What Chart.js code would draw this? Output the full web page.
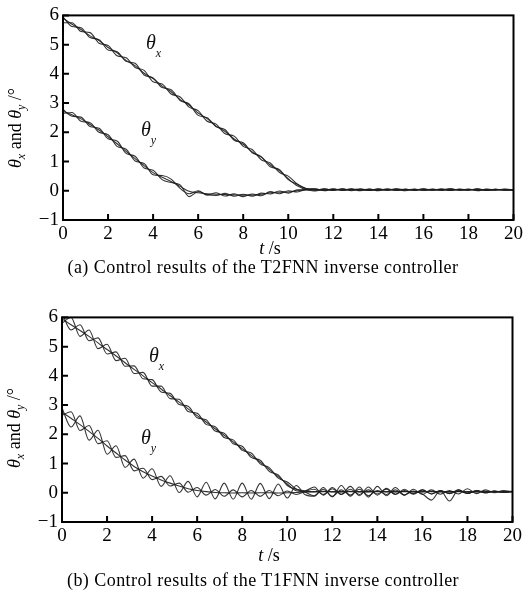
<!DOCTYPE html>
<html lang="en">
<head>
<meta charset="UTF-8">
<title>Control results</title>
<script src="https://cdn.jsdelivr.net/npm/chart.js"></script>
<style>
  body { margin: 0; background: #fff; width: 526px; height: 605px; position: relative; overflow: hidden; font-family: "Liberation Serif", serif; }
  .panel { position: absolute; width: 526px; height: 302px; }
  .lab { position: absolute; font-size: 20px; color: #111; white-space: nowrap; }
  .lab sub { font-size: 12px; position: relative; top: 3px; }
  .ytitle { position: absolute; font-size: 18px; white-space: nowrap; transform: translate(-50%, -50%) rotate(-90deg); }
  .ytitle sub { font-size: 12px; }
  .xtitle { position: absolute; font-size: 18px; transform: translate(-50%, -50%); white-space: nowrap; }
  .cap { position: absolute; left: 0; width: 526px; text-align: center; font-size: 18px; letter-spacing: 0.45px; }
</style>
</head>
<body>

<div class="panel" style="top:0;left:0"><canvas id="chartA" width="526" height="302"></canvas></div>
<div class="panel" style="top:302px;left:-1px"><canvas id="chartB" width="526" height="302"></canvas></div>

<!-- panel (a) texts -->
<div class="ytitle" style="left:17px;top:128px"><i>θ</i><sub><i>x</i></sub> and <i>θ</i><sub><i>y</i></sub> /°</div>
<div class="lab" style="left:146px;top:31px"><i>θ</i><sub><i>x</i></sub></div>
<div class="lab" style="left:141px;top:118px"><i>θ</i><sub><i>y</i></sub></div>
<div class="xtitle" style="left:270px;top:248px"><i>t</i> /s</div>
<div class="cap" style="top:257px">(a) Control results of the T2FNN inverse controller</div>

<!-- panel (b) texts -->
<div class="ytitle" style="left:16px;top:428px"><i>θ</i><sub><i>x</i></sub> and <i>θ</i><sub><i>y</i></sub> /°</div>
<div class="lab" style="left:149px;top:344px"><i>θ</i><sub><i>x</i></sub></div>
<div class="lab" style="left:141px;top:426px"><i>θ</i><sub><i>y</i></sub></div>
<div class="xtitle" style="left:269px;top:555px"><i>t</i> /s</div>
<div class="cap" style="top:570px">(b) Control results of the T1FNN inverse controller</div>

<script>
// time grid (s)
const t = [0,0.4,0.8,1.2,1.6,2,2.4,2.8,3.2,3.6,4,4.4,4.8,5.2,5.6,6,6.4,6.8,7.2,7.6,8,8.4,8.8,9.2,9.6,10,10.4,10.8,
  11.2,11.6,12,12.4,12.8,13.2,13.6,14,14.4,14.8,15.2,15.6,16,16.4,16.8,17.2,17.6,18,18.4,18.8,19.2,19.6,20];

// (a) T2FNN runs
const aX1 = [5.90,5.70,5.52,5.30,5.14,4.90,4.72,4.46,4.28,4.02,3.84,3.58,3.39,3.12,2.93,2.66,2.47,2.21,2.03,1.77,1.59,1.33,1.15,0.88,0.69,0.41,0.17,0.05,
  0.04,0.05,0.04,0.05,0.04,0.04,0.05,0.04,0.04,0.05,0.04,0.04,0.05,0.04,0.04,0.05,0.04,0.04,0.05,0.04,0.05,0.04,0.04];
const aX2 = [5.95,5.62,5.58,5.24,5.17,4.82,4.76,4.43,4.36,3.96,3.86,3.53,3.46,3.09,2.97,2.58,2.50,2.19,2.09,1.73,1.64,1.30,1.17,0.82,0.73,0.38,0.22,0.07,
  0.02,0.07,0.01,0.06,0.03,0.07,0.01,0.06,0.02,0.07,0.03,0.06,0.01,0.05,0.03,0.07,0.02,0.06,0.01,0.05,0.03,0.06,0.03];
const aX3 = [5.75,5.75,5.45,5.41,5.05,4.97,4.62,4.55,4.22,4.12,3.73,3.65,3.31,3.21,2.86,2.74,2.38,2.28,1.95,1.87,1.52,1.41,1.06,0.95,0.63,0.50,0.23,0.08,
  0.06,0.01,0.07,0.02,0.06,0.00,0.05,0.02,0.07,0.01,0.05,0.02,0.06,0.02,0.07,0.01,0.05,0.03,0.06,0.01,0.05,0.02,0.04];
const aY1 = [2.72,2.60,2.46,2.27,2.08,1.85,1.61,1.35,1.10,0.86,0.62,0.46,0.32,0.15,-0.02,-0.07,-0.10,-0.12,-0.13,-0.14,-0.15,-0.15,-0.12,-0.07,-0.05,-0.04,0.00,0.04,
  0.03,0.03,0.04,0.03,0.03,0.04,0.03,0.03,0.04,0.03,0.03,0.04,0.03,0.03,0.03,0.04,0.03,0.03,0.04,0.03,0.03,0.03,0.03];
const aY2 = [2.65,2.68,2.38,2.33,2.00,1.92,1.52,1.42,1.02,0.93,0.55,0.52,0.40,0.08,-0.10,0.00,-0.15,-0.07,-0.18,-0.10,-0.20,-0.11,-0.17,-0.03,-0.10,0.00,-0.04,0.05,
  0.07,0.00,0.06,0.01,0.07,0.02,0.06,0.00,0.05,0.02,0.06,0.01,0.07,0.02,0.05,0.01,0.06,0.02,0.07,0.01,0.05,0.02,0.04];
const aY3 = [2.78,2.55,2.52,2.20,2.14,1.78,1.70,1.28,1.18,0.78,0.70,0.38,0.28,0.20,-0.20,-0.03,-0.13,-0.16,-0.09,-0.19,-0.12,-0.19,-0.08,-0.11,-0.01,-0.08,0.03,0.03,
  -0.01,0.06,0.02,0.07,0.00,0.05,0.01,0.07,0.02,0.06,0.00,0.05,0.02,0.06,0.01,0.07,0.02,0.05,0.00,0.06,0.02,0.05,0.03];

// (b) T1FNN runs
const bX1 = [5.95,5.75,5.55,5.35,5.13,4.90,4.68,4.45,4.22,4.00,3.77,3.55,3.32,3.10,2.87,2.64,2.42,2.19,1.97,1.74,1.51,1.28,1.05,0.80,0.55,0.30,0.07,0.04,
  0.04,0.05,0.04,0.04,0.05,0.04,0.04,0.05,0.04,0.04,0.05,0.04,0.04,0.05,0.04,0.04,0.05,0.04,0.04,0.05,0.04,0.04,0.05];
const bX2 = [6.15,5.57,5.75,5.20,5.30,4.75,4.82,4.33,4.34,3.90,3.87,3.45,3.40,3.02,2.96,2.57,2.50,2.11,2.04,1.68,1.59,1.21,1.11,0.73,0.61,0.25,0.12,0.07,
  0.20,-0.08,0.18,-0.06,0.22,-0.10,0.20,-0.08,0.15,-0.06,0.12,-0.05,0.10,-0.04,0.08,-0.03,0.10,-0.02,0.06,0.00,0.05,0.02,0.04];
const bX3 = [5.80,6.00,5.35,5.57,4.93,5.08,4.52,4.60,4.08,4.12,3.65,3.65,3.22,3.20,2.78,2.72,2.34,2.26,1.89,1.81,1.45,1.36,0.99,0.86,0.50,0.37,0.13,0.02,
  -0.10,0.12,-0.12,0.10,-0.08,0.12,-0.10,0.08,-0.06,0.10,-0.08,0.06,-0.04,-0.25,0.08,-0.28,0.10,-0.02,0.08,0.00,0.06,0.02,0.04];
const bY1 = [2.75,2.55,2.33,2.10,1.86,1.60,1.36,1.12,0.90,0.72,0.57,0.44,0.33,0.23,0.14,0.08,0.04,0.01,0.00,-0.01,0.00,-0.01,0.00,0.00,-0.01,0.00,0.01,0.03,
  0.03,0.04,0.03,0.03,0.04,0.03,0.03,0.04,0.03,0.03,0.04,0.03,0.03,0.04,0.03,0.03,0.04,0.03,0.03,0.04,0.03,0.03,0.04];
const bY2 = [2.65,2.77,2.13,2.30,1.68,1.78,1.21,1.27,0.75,0.84,0.45,0.56,0.23,0.33,0.02,0.18,-0.08,0.11,-0.12,0.10,-0.14,0.08,-0.12,0.08,-0.10,0.06,-0.06,0.05,
  0.12,-0.06,0.14,-0.05,0.12,-0.06,0.10,-0.04,0.12,-0.05,0.08,-0.03,0.10,-0.04,0.08,-0.02,0.06,-0.02,0.08,0.00,0.06,0.01,0.05];
const bY3 = [2.90,2.25,2.63,1.80,2.14,1.32,1.61,0.87,1.15,0.50,0.82,0.22,0.58,0.01,0.39,-0.14,0.36,-0.21,0.33,-0.22,0.33,-0.22,0.32,-0.20,0.30,-0.18,0.25,-0.07,
  -0.12,0.18,-0.14,0.25,-0.12,0.20,-0.15,0.22,-0.10,0.18,-0.08,0.12,-0.06,0.10,-0.05,0.08,-0.04,0.14,-0.03,0.10,0.00,0.08,0.03];

const xTicks = [0,2,4,6,8,10,12,14,16,18,20];
const yTicks = [-1,0,1,2,3,4,5,6];

// box around the plot + inward tick marks
const frame = {
  id: 'frame',
  afterDatasetsDraw(chart) {
    const ctx = chart.ctx, a = chart.chartArea, x = chart.scales.x, y = chart.scales.y;
    ctx.save();
    ctx.strokeStyle = '#000';
    ctx.lineWidth = 2;
    ctx.strokeRect(a.left, a.top, a.right - a.left, a.bottom - a.top);
    ctx.beginPath();
    x.ticks.forEach(tk => { const px = x.getPixelForValue(tk.value); ctx.moveTo(px, a.bottom); ctx.lineTo(px, a.bottom - 6); });
    y.ticks.forEach(tk => { const py = y.getPixelForValue(tk.value); ctx.moveTo(a.left, py); ctx.lineTo(a.left + 6, py); });
    ctx.stroke();
    ctx.restore();
  }
};

function makeChart(id, runs) {
  const datasets = runs.map(r => ({
    data: t.map((v, i) => ({x: v, y: r[i]})),
    borderColor: 'rgba(30,30,30,0.9)',
    borderWidth: 1.1,
    pointRadius: 0,
    cubicInterpolationMode: 'monotone',
    fill: false
  }));
  return new Chart(document.getElementById(id), {
    type: 'line',
    data: {datasets: datasets},
    options: {
      responsive: false,
      animation: false,
      devicePixelRatio: 1,
      layout: {autoPadding: false, padding: {top: 14, right: 8, left: 0, bottom: 0}},
      plugins: {legend: {display: false}, tooltip: {enabled: false}},
      scales: {
        x: {
          type: 'linear', min: 0, max: 20,
          afterFit: s => { s.height = 82; },
          afterBuildTicks: s => { s.ticks = xTicks.map(v => ({value: v})); },
          grid: {display: false, drawTicks: false}, border: {display: false},
          ticks: {color: '#000', padding: 3, maxRotation: 0, font: {family: 'Liberation Serif', size: 19}}
        },
        y: {
          type: 'linear', min: -1, max: 6,
          afterFit: s => { s.width = 63; },
          afterBuildTicks: s => { s.ticks = yTicks.map(v => ({value: v})); },
          grid: {display: false, drawTicks: false}, border: {display: false},
          ticks: {color: '#000', padding: 4, font: {family: 'Liberation Serif', size: 19},
            callback: v => v < 0 ? '\u2212' + Math.abs(v) : String(v)}
        }
      }
    },
    plugins: [frame]
  });
}

makeChart('chartA', [aX1, aX2, aX3, aY1, aY2, aY3]);
makeChart('chartB', [bX1, bX2, bX3, bY1, bY2, bY3]);
</script>
</body>
</html>
